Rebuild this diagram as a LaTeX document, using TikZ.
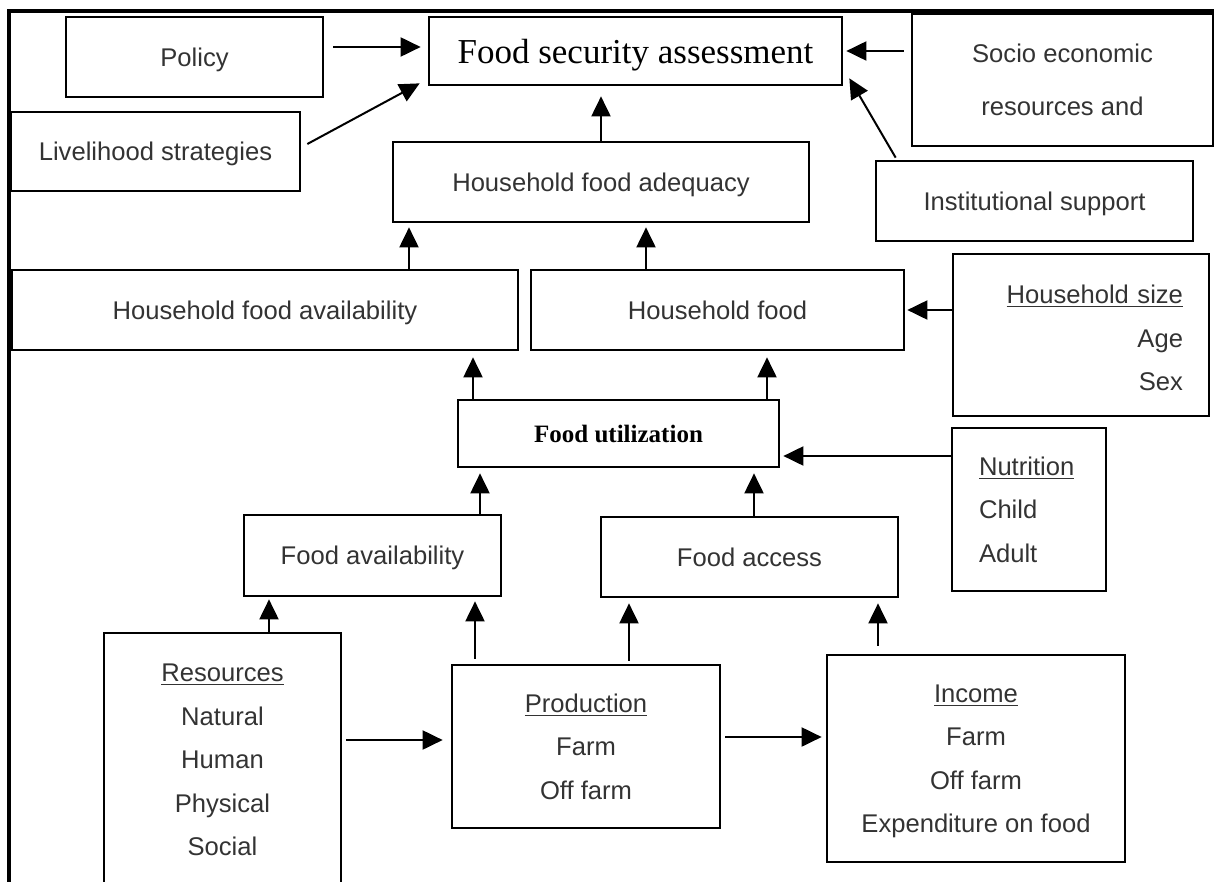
\documentclass[tikz,border=0pt]{standalone}
\usepackage{fontspec}
\setmainfont{Liberation Serif}
\newfontfamily\arialf{Liberation Sans}
\usetikzlibrary{arrows.meta}
\tikzset{
  box/.style={draw, line width=1.35pt, inner sep=0pt, align=center,
    font=\arialf\fontsize{12.8}{21.75}\selectfont, text=black!80},
  one/.style={text depth=0pt},
  sz/.style 2 args={minimum width=#1*0.5pt, minimum height=#2*0.5pt},
  serifbox/.style={font=\fontsize{17.5}{21}\selectfont, text=black},
  boldbox/.style={font=\bfseries\fontsize{12.5}{15}\selectfont, text=black},
  arr/.style={line width=1pt, -{Triangle[length=10pt,width=9.5pt]}},
  frameline/.style={line width=1.75pt}
}
\begin{document}
\begin{tikzpicture}[x=0.5pt,y=-0.5pt]
\useasboundingbox (0,0) rectangle (1214,882);

% frame
\draw[frameline] (9,900) -- (9,11) -- (1240,11);

% nodes
\node[box, one, sz={257}{80}] (policy) at (194.5,57) {Policy};
\node[box, one, serifbox, sz={413}{68}] (fsa) at (635.5,51) {Food security assessment};
\node[box, sz={301}{132}, font=\arialf\fontsize{12.8}{26.5}\selectfont] (socio) at (1062.5,80) {Socio economic\\resources and};
\node[box, one, sz={289}{79}] (liv) at (155.5,151.5) {Livelihood strategies};
\node[box, one, sz={317}{80}] (inst) at (1034.5,201) {Institutional support};
\node[box, one, sz={416}{80}] (hfa) at (601,182) {Household food adequacy};
\node[box, one, sz={506}{80}] (hfav) at (265,310) {Household food availability};
\node[box, one, sz={373}{80}] (hhf) at (717.5,310) {Household food};
\node[box, sz={256}{162}, align=right, text width=102pt, text height=12.3pt] (hhs) at (1081,335) {\underline{Household size}\\Age\\Sex};
\node[box, one, boldbox, sz={321}{67}] (fu) at (618.5,433.5) {Food utilization};
\node[box, sz={154}{163}, align=left, text width=50pt] (nut) at (1029,509.5) {\underline{Nutrition}\\Child\\Adult};
\node[box, one, sz={257}{81}] (fav) at (372.5,555.5) {Food availability};
\node[box, one, sz={297}{80}] (facc) at (749.5,557) {Food access};
\node[box, sz={237}{254}] (res) at (222.5,760) {\underline{Resources}\\Natural\\Human\\Physical\\Social};
\node[box, sz={268}{163}, text depth=-1.5pt] (prod) at (586,746.5) {\underline{Production}\\Farm\\Off farm};
\node[box, sz={298}{207}, text depth=-1.3pt] (inc) at (976,758.5) {\underline{Income}\\Farm\\Off farm\\Expenditure on food};

% helper coordinates for connector positions
\coordinate (yPol) at (0,47);
\coordinate (c1) at (409,0);
\coordinate (c2) at (646,0);
\coordinate (c3) at (473,0);
\coordinate (c4) at (767,0);
\coordinate (c5) at (480,0);
\coordinate (c6) at (754,0);
\coordinate (c7) at (269,0);
\coordinate (c8) at (475,0);
\coordinate (c9) at (629,0);
\coordinate (c10) at (878,0);
\coordinate (r1) at (0,456);
\coordinate (r2) at (0,740);
\coordinate (r3) at (0,737);

% connectors
\draw[arr, shorten <=4.5pt, shorten >=3.5pt] (policy.east |- yPol) -- (fsa.west |- yPol);
\draw[arr] ([xshift=3pt,yshift=3.75pt]liv.east) -- ([xshift=-4pt,yshift=1.5pt]fsa.south west);
\draw[arr, shorten <=3.5pt, shorten >=1.5pt] (socio.west |- fsa.east) -- (fsa.east);
\draw[arr] ([xshift=10.5pt,yshift=1pt]inst.north west) -- ([xshift=3pt,yshift=4pt]fsa.south east);
\draw[arr, shorten >=5pt] (hfa.north) -- (hfa.north |- fsa.south);
\draw[arr, shorten >=2pt] (c1 |- hfav.north) -- (c1 |- hfa.south);
\draw[arr, shorten >=2pt] (c2 |- hhf.north) -- (c2 |- hfa.south);
\draw[arr, shorten >=3pt] (c3 |- fu.north) -- (c3 |- hfav.south);
\draw[arr, shorten >=3pt] (c4 |- fu.north) -- (c4 |- hhf.south);
\draw[arr, shorten >=1pt] (hhs.west |- hhf.east) -- (hhf.east);
\draw[arr, shorten >=2.5pt] (c5 |- fav.north) -- (c5 |- fu.south);
\draw[arr, shorten >=2.5pt] (c6 |- facc.north) -- (c6 |- fu.south);
\draw[arr, shorten >=1.5pt] (nut.west |- r1) -- (fu.east |- r1);
\draw[arr, shorten >=1pt] (c7 |- res.north) -- (c7 |- fav.south);
\draw[arr, shorten <=2.5pt, shorten >=2pt] (c8 |- prod.north) -- (c8 |- fav.south);
\draw[arr, shorten <=1.5pt, shorten >=2.5pt] (c9 |- prod.north) -- (c9 |- facc.south);
\draw[arr, shorten <=4pt, shorten >=2.5pt] (c10 |- inc.north) -- (c10 |- facc.south);
\draw[arr, shorten <=2pt, shorten >=4pt] (res.east |- r2) -- (prod.west |- r2);
\draw[arr, shorten <=2pt, shorten >=2pt] (prod.east |- r3) -- (inc.west |- r3);
\end{tikzpicture}
\end{document}
